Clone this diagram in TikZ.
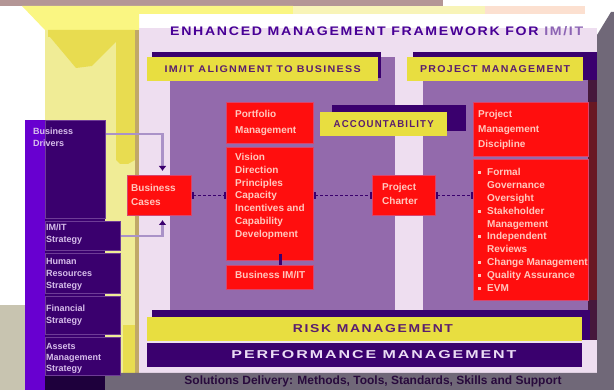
\documentclass[tikz,border=0pt]{standalone}
\usepackage{fontspec}
\usepackage{graphicx}
\setmainfont{Liberation Sans}
\newfontfamily\capsfont[LetterSpace=12]{Liberation Sans}
\usetikzlibrary{arrows.meta,calc}
\definecolor{lav}{RGB}{238,222,240}
\definecolor{colpurple}{RGB}{147,106,172}
\definecolor{hdryellow}{RGB}{232,222,64}
\definecolor{dpurple}{RGB}{58,0,110}
\definecolor{vdpurple}{RGB}{30,0,60}
\definecolor{violetc}{RGB}{104,0,208}
\definecolor{boxred}{RGB}{255,14,14}
\definecolor{redline}{RGB}{215,70,110}
\definecolor{redtext}{RGB}{255,200,190}
\definecolor{lightyel}{RGB}{240,236,150}
\definecolor{brightyel}{RGB}{250,246,130}
\definecolor{funnelyel}{RGB}{232,220,80}
\definecolor{tanc}{RGB}{192,168,104}
\definecolor{greysh}{RGB}{112,104,120}
\definecolor{khaki}{RGB}{200,196,176}
\definecolor{topstrip}{RGB}{180,150,150}
\definecolor{paleyel}{RGB}{248,244,184}
\definecolor{peach}{RGB}{252,224,208}
\definecolor{feedlav}{RGB}{170,146,200}
\definecolor{lefttext}{RGB}{215,190,235}
\definecolor{hdrtext}{RGB}{90,30,110}
\definecolor{titlepurple}{RGB}{72,0,150}
\definecolor{titlelight}{RGB}{140,100,180}
\definecolor{shadowred}{RGB}{105,25,35}
\definecolor{colshadow}{RGB}{70,25,60}
\definecolor{edgepurple}{RGB}{110,60,150}
\definecolor{bottext}{RGB}{40,10,60}
\definecolor{perftext}{RGB}{235,220,245}
\newcommand\bsq{\makebox[9pt][l]{\raisebox{1.5pt}{\rule{3pt}{3pt}}}}
\begin{document}
\begin{tikzpicture}[x=1pt,y=-1pt,
  redbox/.style={draw=redline,line width=1pt,fill=boxred,inner sep=0pt,anchor=north west},
  redtxt/.style={text=redtext,font=\fontsize{10}{12.8}\selectfont\bfseries,align=left,anchor=north west,inner sep=0pt},
  darkbox/.style={fill=dpurple,draw=edgepurple,line width=1pt,inner sep=0pt,anchor=north west},
  lefttxt/.style={text=lefttext,font=\fontsize{9}{12}\selectfont\bfseries,align=left,anchor=north west,inner sep=0pt},
  yelbox/.style={fill=hdryellow,inner sep=0pt,anchor=north west},
  hdr/.style={text=hdrtext,inner sep=0pt},
  conn/.style={draw=dpurple,line width=1.6pt,dash pattern=on 3pt off 2pt,{Bar[width=7pt]}-{Bar[width=7pt]}},
  feed/.style={draw=feedlav,line width=2.5pt,-{Latex[length=5pt,width=8pt,color=dpurple]}},
]
\useasboundingbox (0,0) rectangle (614,390);
% background
\fill[white] (0,0) rectangle (614,390);
\fill[topstrip] (0,0) rectangle (443,6);
\fill[brightyel] (22,6) -- (293,6) -- (293,14) -- (139,14) -- (139,30) -- (45,30) -- cycle;
\fill[paleyel] (293,6) rectangle (485,14);
\fill[peach] (485,6) rectangle (585,14);
\fill[lightyel] (45,30) rectangle (139,390);
\fill[funnelyel] (48,30) -- (135,30) -- (135,160) -- (128,164) -- (120,164) -- (116,160) -- (116,42) -- (92,66) -- (76,68) -- (50,37) -- (48,37) -- cycle;
\fill[funnelyel] (123,325) rectangle (135,375);
\fill[tanc] (135,30) rectangle (139,390);
\fill[khaki] (0,305) rectangle (25,390);
\fill[lav] (139,28) rectangle (597,373);
\fill[greysh] (597,35) -- (611,12) -- (614,12) -- (614,390) -- (100,390) -- (100,373) -- (597,373) -- cycle;
% title
\node[anchor=west,inner sep=0pt] (title) at (170,31) {\resizebox{413pt}{9pt}{\capsfont\bfseries\color{titlepurple}ENHANCED MANAGEMENT FRAMEWORK FOR \color{titlelight}IM/IT}};
% columns
\fill[colpurple] (170,57) rectangle (395,312);
\fill[colpurple] (423,57) rectangle (588,312);
\fill[colshadow] (588,52) rectangle (597,340);
\fill[shadowred] (588,102) rectangle (597,300);
% headers
\fill[dpurple] (152,52) rectangle (381,78);
\node[yelbox,minimum width=231pt,minimum height=24pt,hdr] (hleft) at (147,57) {\resizebox{196pt}{7pt}{\capsfont\bfseries IM/IT ALIGNMENT TO BUSINESS}};
\fill[dpurple] (413,52) rectangle (597,80);
\node[yelbox,minimum width=176pt,minimum height=24pt,hdr] (hright) at (407,57) {\resizebox{150pt}{7pt}{\capsfont\bfseries PROJECT MANAGEMENT}};
\fill[dpurple] (332,105) rectangle (466,131);
\node[yelbox,minimum width=127pt,minimum height=24pt,hdr] (acc) at (320,112) {\resizebox{100pt}{7pt}{\capsfont\bfseries ACCOUNTABILITY}};
% bottom bars
\fill[dpurple] (152,310) rectangle (590,340);
\node[yelbox,minimum width=435pt,minimum height=24pt] (risk) at (147,317) {};
\node[hdr] (risktxt) at (373,329) {\resizebox{160pt}{8pt}{\capsfont\bfseries RISK MANAGEMENT}};
\node[fill=dpurple,inner sep=0pt,anchor=north west,minimum width=435pt,minimum height=24pt] (perf) at (147,343) {};
\node[text=perftext,inner sep=0pt] (perftxt) at (374,355) {\resizebox{285pt}{8pt}{\capsfont\bfseries PERFORMANCE MANAGEMENT}};
\node[text=bottext,inner sep=0pt] (tools) at (373,381) {\resizebox{377pt}{!}{\bfseries\fontsize{9}{9}\selectfont Solutions Delivery: Methods, Tools, Standards, Skills and Support}};
% left panel
\fill[violetc] (25,120) rectangle (45,390);
\fill[dpurple] (45,120) rectangle (105,390);
\fill[vdpurple] (45,375) rectangle (105,390);
\node[darkbox,minimum width=60pt,minimum height=98pt] (bd) at (45,120) {};
\node[lefttxt] (bdt) at (33,128) {Business\\Drivers};
\node[darkbox,minimum width=75pt,minimum height=29pt] (imit) at (45,221) {};
\node[lefttxt] (imitt) at (46,224) {IM/IT\\Strategy};
\node[darkbox,minimum width=75pt,minimum height=40pt] (hr) at (45,253) {};
\node[lefttxt] (hrt) at (46,258) {Human\\Resources\\Strategy};
\node[darkbox,minimum width=75pt,minimum height=38pt] (fin) at (45,296) {};
\node[lefttxt] (fint) at (46,305) {Financial\\Strategy};
\node[darkbox,minimum width=75pt,minimum height=38pt] (ast) at (45,337) {};
\node[lefttxt,font=\fontsize{9}{11}\selectfont\bfseries] (astt) at (46,343) {Assets\\Management\\Strategy};
% red boxes
\node[redbox,minimum width=87pt,minimum height=41pt] (port) at (226,102) {};
\node[redtxt,font=\fontsize{10}{16}\selectfont\bfseries] (portt) at (235,110) {Portfolio\\Management};
\node[redbox,minimum width=87pt,minimum height=113pt] (big) at (226,147) {};
\node[redtxt] (bigt) at (235,153) {Vision\\Direction\\Principles\\Capacity\\Incentives and\\Capability\\Development};
\node[redbox,minimum width=87pt,minimum height=24pt] (bot) at (226,265) {};
\node[redtxt] (bott) at (235,271) {Business IM/IT};
\node[redbox,minimum width=64pt,minimum height=40pt] (bc) at (127,175) {};
\node[redtxt,font=\fontsize{10}{14}\selectfont\bfseries] (bct) at (131,184) {Business\\Cases};
\node[redbox,minimum width=63pt,minimum height=40pt] (cr) at (372,175) {};
\node[redtxt,font=\fontsize{10}{14}\selectfont\bfseries] (crt) at (382,183) {Project\\Charter};
\node[redbox,minimum width=115pt,minimum height=54pt] (rt) at (473,102) {};
\node[redtxt,font=\fontsize{10}{15}\selectfont\bfseries] (rtt) at (478,110) {Project\\Management\\Discipline};
\node[redbox,minimum width=115pt,minimum height=141pt] (rb) at (473,159) {};
\node[redtxt,font=\fontsize{10}{12.9}\selectfont\bfseries] (rbt) at (478,168) {\bsq Formal\\\hspace*{9pt}Governance\\\hspace*{9pt}Oversight\\\bsq Stakeholder\\\hspace*{9pt}Management\\\bsq Independent\\\hspace*{9pt}Reviews\\\bsq Change Management\\\bsq Quality Assurance\\\bsq EVM};
% connectors
\draw[feed] ($(bd.north east)+(0,14)$) -| ($(bc.north)+(3,-4)$);
\draw[feed] ($(imit.north east)+(0,15)$) -| ($(bc.south)+(3,4)$);
\draw[conn] (bc.east) -- (bc.east -| big.west);
\draw[conn] (big.east |- cr.west) -- (cr.west);
\draw[conn] (cr.east) -- (cr.east -| rb.west);
\draw[dpurple,line width=3pt] ($(big.south)+(10,-7)$) -- ($(bot.north)+(10,0)$);
\end{tikzpicture}
\end{document}
